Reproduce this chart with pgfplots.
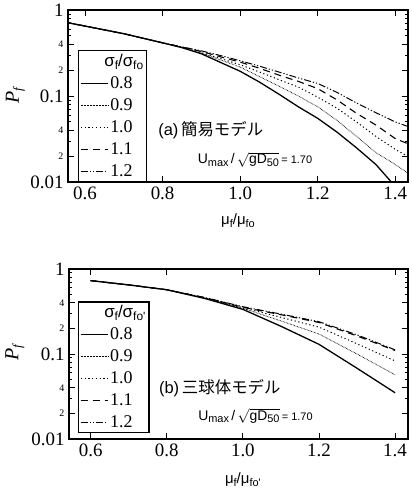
\documentclass[border=0pt]{standalone}
\usepackage{fontspec}
\setmainfont{Liberation Serif}
\newfontfamily\sans{Liberation Sans}
\newfontfamily\cjk{Noto Sans CJK JP}
\usepackage{pgfplots}
\pgfplotsset{compat=1.18}
\newcommand{\fs}[1]{\fontsize{#1}{#1}\selectfont}
\newcommand{\lbl}[1]{{\fs{10}#1}}
\tikzset{
  s08/.style={black, line width=1.3pt},
  s09/.style={black, line width=0.8pt, dash pattern=on 0.6pt off 0.9pt},
  s10/.style={black, line width=1pt, dash pattern=on 1.2pt off 2.6pt},
  s11/.style={black, line width=1.1pt, dash pattern=on 7pt off 5pt},
  s12/.style={black, line width=1pt, dash pattern=on 7pt off 2pt on 1.2pt off 2pt on 1.2pt off 2pt},
}
\pgfplotsset{
  mystyle/.style={
    scale only axis, ymin=0.01, ymax=1,
    axis line style={line width=1.3pt},
    every tick/.style={black, line width=0.8pt},
    major tick length=6bp, minor tick length=3bp,
    tick align=inside, xtick pos=both, ytick pos=both,
    xtick={0.6,0.8,1.0,1.2,1.4},
    xticklabels={0.6,0.8,1.0,1.2,1.4},
    ytick={0.01,0.02,0.04,0.1,0.2,0.4,1},
    yticklabels={0.01,\lbl{2},\lbl{4},0.1,\lbl{2},\lbl{4},1},
    minor ytick={0.03,0.05,0.06,0.07,0.08,0.09,0.3,0.5,0.6,0.7,0.8,0.9},
    /pgf/number format/assume math mode=true,
    tick label style={font=\fs{19}},
    xticklabel style={yshift=-1bp},
    yticklabel style={xshift=-1bp},
    legend cell align=left,
    legend style={draw=black, line width=1.2pt, font=\fs{18}, inner sep=1.5pt,
      row sep=4.6pt, fill=white, /tikz/every even column/.append style={column sep=3pt}},
  }
}
\begin{document}
\begin{tikzpicture}
\useasboundingbox (0,0) rectangle (412bp,496bp);
% ---------------- top (a)
\begin{axis}[ymode=log, mystyle, at={(68bp,314bp)}, anchor=south west, width=340bp, height=172bp,
  xmin=0.556, xmax=1.433,
  legend image code/.code={\draw[#1, line width=1pt] (0bp,0bp) -- (27bp,0bp);},
  ylabel={\fs{20}\itshape P\raisebox{-0.35ex}{\fs{13}f}},
  ylabel style={at={(axis description cs:-0.155,0.5)}, anchor=center, rotate=0},
  xlabel={\sans\fs{15}μ\raisebox{-0.3ex}{\fs{11}f}/μ\raisebox{-0.3ex}{\fs{11}fo}},
  xlabel style={at={(axis description cs:0.5,-0.225)}, anchor=center},
  legend style={at={(axis description cs:0.03,0)}, anchor=south west},
]
\addlegendimage{empty legend}
\addlegendentry{\hspace{-6pt}{\sans\fs{17}σ\raisebox{-0.3ex}{\fs{12}f}/σ\raisebox{-0.3ex}{\fs{12}fo}}}
\addplot[s08] coordinates {(0.55,0.72) (0.6,0.65) (0.7,0.53) (0.8,0.415) (0.85,0.365) (0.9,0.31) (0.95,0.245) (1.0,0.194) (1.05,0.145) (1.1,0.105) (1.15,0.075) (1.2,0.055) (1.25,0.038) (1.3,0.025) (1.35,0.016) (1.39,0.010)};
\addlegendentry{0.8}
\addplot[s09] coordinates {(0.55,0.72) (0.6,0.65) (0.7,0.53) (0.8,0.415) (0.85,0.367) (0.9,0.315) (0.95,0.262) (1.0,0.217) (1.05,0.168) (1.1,0.13) (1.15,0.1) (1.2,0.075) (1.25,0.052) (1.3,0.034) (1.35,0.022) (1.4,0.016) (1.44,0.012)};
\addlegendentry{0.9}
\addplot[s10] coordinates {(0.55,0.72) (0.6,0.65) (0.7,0.53) (0.8,0.415) (0.85,0.368) (0.9,0.32) (0.95,0.272) (1.0,0.231) (1.05,0.19) (1.1,0.155) (1.15,0.127) (1.2,0.097) (1.25,0.072) (1.3,0.05) (1.35,0.034) (1.4,0.024) (1.44,0.019)};
\addlegendentry{1.0}
\addplot[s11] coordinates {(0.55,0.72) (0.6,0.65) (0.7,0.53) (0.8,0.415) (0.85,0.37) (0.9,0.33) (0.95,0.285) (1.0,0.248) (1.05,0.21) (1.1,0.175) (1.15,0.148) (1.2,0.122) (1.25,0.09) (1.3,0.063) (1.35,0.046) (1.4,0.032) (1.44,0.027)};
\addlegendentry{1.1}
\addplot[s12] coordinates {(0.55,0.72) (0.6,0.65) (0.7,0.53) (0.8,0.415) (0.85,0.372) (0.9,0.335) (0.95,0.295) (1.0,0.257) (1.05,0.222) (1.1,0.19) (1.15,0.162) (1.2,0.14) (1.25,0.11) (1.3,0.083) (1.35,0.064) (1.4,0.05) (1.44,0.043)};
\addlegendentry{1.2}
\node[anchor=center, inner sep=0pt, text depth=0pt] at (axis description cs:0.42,0.313) {\sans\fs{16.5}(a)\,{\cjk 簡易モデル}};
\node[anchor=center, inner sep=0pt, text height=9pt] at (axis description cs:0.55,0.122) {\sans\fs{14}U\raisebox{-0.4ex}{\fs{11}max}\,/\,$\sqrt{\hbox{\sans\fs{14}gD\raisebox{-0.4ex}{\fs{11}50}}}$\,\fs{11}= 1.70};
\end{axis}
% ---------------- bottom (b)
\begin{axis}[ymode=log, mystyle, at={(69bp,57bp)}, anchor=south west, width=339bp, height=170bp,
  xmin=0.543, xmax=1.434,
  legend image code/.code={\draw[#1, line width=1pt] (0bp,0bp) -- (27bp,0bp);},
  ylabel={\fs{20}\itshape P\raisebox{-0.35ex}{\fs{13}f}},
  ylabel style={at={(axis description cs:-0.16,0.51)}, anchor=center, rotate=0},
  xlabel={\sans\fs{15}μ\raisebox{-0.3ex}{\fs{11}f}/μ\raisebox{-0.3ex}{\fs{11}fo'}},
  xlabel style={at={(axis description cs:0.513,-0.24)}, anchor=center},
  legend style={at={(axis description cs:0.027,0.035)}, anchor=south west},
]
\addlegendimage{empty legend}
\addlegendentry{\hspace{-6pt}{\sans\fs{17}σ\raisebox{-0.3ex}{\fs{12}f}/σ\raisebox{-0.3ex}{\fs{12}fo'}}}
\addplot[s08] coordinates {(0.6,0.73) (0.7,0.65) (0.8,0.57) (0.9,0.45) (1.0,0.335) (1.1,0.212) (1.2,0.13) (1.3,0.068) (1.4,0.035)};
\addlegendentry{0.8}
\addplot[s09] coordinates {(0.6,0.73) (0.7,0.65) (0.8,0.57) (0.9,0.455) (1.0,0.345) (1.1,0.245) (1.2,0.172) (1.3,0.1) (1.4,0.057)};
\addlegendentry{0.9}
\addplot[s10] coordinates {(0.6,0.73) (0.7,0.65) (0.8,0.57) (0.9,0.457) (1.0,0.35) (1.1,0.27) (1.2,0.207) (1.3,0.132) (1.4,0.083)};
\addlegendentry{1.0}
\addplot[s11] coordinates {(0.6,0.73) (0.7,0.65) (0.8,0.57) (0.9,0.46) (1.0,0.355) (1.1,0.29) (1.2,0.235) (1.3,0.163) (1.4,0.11)};
\addlegendentry{1.1}
\addplot[s12] coordinates {(0.6,0.73) (0.7,0.65) (0.8,0.57) (0.9,0.462) (1.0,0.36) (1.1,0.295) (1.2,0.24) (1.3,0.168) (1.4,0.112)};
\addlegendentry{1.2}
\node[anchor=center, inner sep=0pt, text depth=0pt] at (axis description cs:0.445,0.307) {\sans\fs{16.5}(b)\,{\cjk 三球体モデル}};
\node[anchor=center, inner sep=0pt, text height=9pt] at (axis description cs:0.55,0.128) {\sans\fs{14}U\raisebox{-0.4ex}{\fs{11}max}\,/\,$\sqrt{\hbox{\sans\fs{14}gD\raisebox{-0.4ex}{\fs{11}50}}}$\,\fs{11}= 1.70};
\end{axis}
\end{tikzpicture}
\end{document}
